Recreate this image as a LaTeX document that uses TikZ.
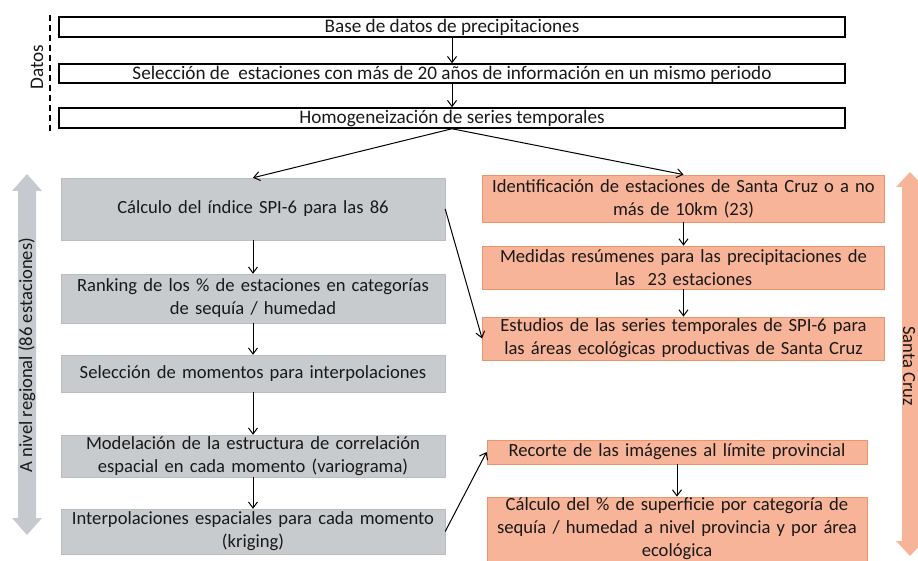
\documentclass[tikz,border=0pt]{standalone}
\usepackage{fontspec}
\setmainfont{Carlito}
\usetikzlibrary{arrows.meta}

\definecolor{grisbox}{RGB}{200,203,206}
\definecolor{grisborde}{RGB}{186,189,192}
\definecolor{grisflecha}{RGB}{198,202,206}
\definecolor{naranja}{RGB}{248,180,152}
\definecolor{naranjaborde}{RGB}{236,148,108}

\begin{document}
\begin{tikzpicture}[x=1pt,y=-1pt,
    >={Straight Barb[length=6pt,width=9pt]},
    every node/.style={font=\fontsize{18.6}{23}\selectfont, text=black!90},
    flecha/.style={->, line width=1pt},
    datobox/.style={draw, line width=1.5pt, minimum width=786pt, inner sep=0pt, text height=12pt, text depth=0pt, font=\fontsize{19.2}{23}\selectfont},
    grisbox/.style={fill=grisbox, draw=grisborde, text width=384pt, align=center, inner sep=0pt},
    naranjabox/.style={fill=naranja, draw=naranjaborde, line width=0.8pt, align=center, inner sep=0pt}]
    \useasboundingbox (0,0) rectangle (918,561);
    \clip (0,0) rectangle (918,561);

    % Datos
    \node[datobox, minimum height=20pt] (base) at (452,27) {Base de datos de precipitaciones};
    \node[datobox, minimum height=19pt] (selec) at (452,73.5) {Selección de \ estaciones con más de 20 años de información en un mismo periodo};
    \node[datobox, minimum height=20pt] (homog) at (452,118) {Homogeneización de series temporales};
    \draw[line width=1.2pt, dash pattern=on 6pt off 4pt] (50,15) -- (50,133);
    \node[rotate=90, font=\fontsize{19.2}{23}\selectfont] (datos) at (37,67) {Datos};

    % Big arrows at the sides
    \fill[grisflecha] (12,191) -- (27,174) -- (42,191) -- (36,191) -- (36,518) -- (42,518)
        -- (27,535) -- (12,518) -- (18,518) -- (18,191) -- cycle;
    \node[rotate=90] (regional) at (27,355) {A nivel regional (86 estaciones)};
    \fill[naranja] (896,187) -- (910,172) -- (924,187) -- (918,187) -- (918,541) -- (924,541)
        -- (910,556) -- (896,541) -- (902,541) -- (902,187) -- cycle;
    \node[rotate=-90] (santacruz) at (909,366) {Santa Cruz};

    % Regional branch
    \node[grisbox, minimum height=62pt] (spi) at (253,209) {Cálculo del índice SPI-6 para las 86};
    \node[grisbox, minimum height=49pt] (ranking) at (253,298.5) {Ranking de los \% de estaciones en categorías\\de sequía / humedad};
    \node[grisbox, minimum height=37pt] (momentos) at (253,373.5) {Selección de momentos para interpolaciones};
    \node[grisbox, minimum height=42pt] (modelo) at (253,456) {Modelación de la estructura de correlación\\espacial en cada momento (variograma)};
    \node[grisbox, minimum height=45pt] (kriging) at (253,531.5) {Interpolaciones espaciales para cada momento\\(kriging)};

    % Santa Cruz branch
    \node[naranjabox, text width=402pt, minimum height=47pt] (ident) at (683.5,198.5) {Identificación de estaciones de Santa Cruz o a no\\más de 10km (23)};
    \node[naranjabox, text width=402pt, minimum height=43pt] (medidas) at (683.5,267.5) {Medidas resúmenes para las precipitaciones de\\las \ 23 estaciones};
    \node[naranjabox, text width=402pt, minimum height=43pt] (estudios) at (683.5,338.5) {Estudios de las series temporales de SPI-6 para\\las áreas ecológicas productivas de Santa Cruz};
    \node[naranjabox, text width=380pt, minimum height=24pt] (recorte) at (677,452) {Recorte de las imágenes al límite provincial};
    \node[naranjabox, text width=380pt, minimum height=64pt] (superficie) at (677,529) {Cálculo del \% de superficie por categoría de\\sequía / humedad a nivel provincia y por área\\ecológica};

    % Connectors
    \draw[flecha] (base.south) -- (selec.north);
    \draw[flecha] (selec.south) -- (homog.north);
    \draw[flecha] (homog.south) -- (spi.north);
    \draw[flecha] (homog.south) -- (ident.north);
    \draw[flecha] (spi.south) -- (ranking.north);
    \draw[flecha] (ranking.south) -- (momentos.north);
    \draw[flecha] (momentos.south) -- (modelo.north);
    \draw[flecha] (modelo.south) -- (kriging.north);
    \draw[flecha] (ident.south) -- (medidas.north);
    \draw[flecha] (medidas.south) -- (estudios.north);
    \draw[flecha] (spi.east) -- (estudios.west);
    \draw[flecha] (kriging.east) -- (recorte.west);
    \draw[flecha] (recorte.south) -- (superficie.north);
\end{tikzpicture}
\end{document}
